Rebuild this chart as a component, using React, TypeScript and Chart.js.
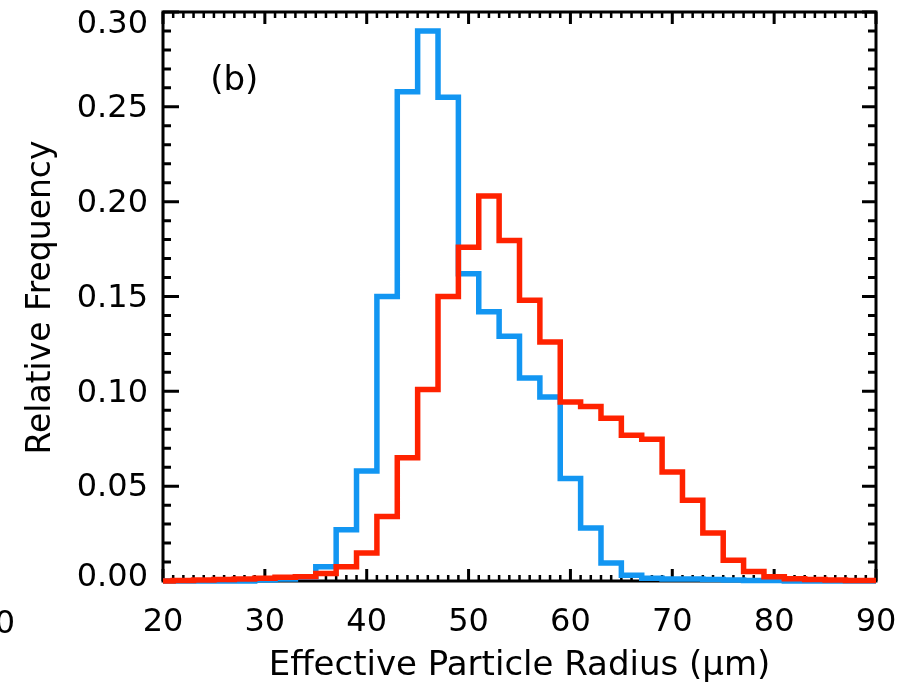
import React, { useEffect, useRef } from 'react';
import { Chart, registerables } from 'chart.js';

Chart.register(...registerables);

// Bin centres (µm), 2 µm wide bins
const binCenters = [20, 22, 24, 26, 28, 30, 32, 34, 36, 38, 40, 42, 44, 46, 48, 50, 52, 54, 56, 58, 60, 62, 64, 66, 68, 70, 72, 74, 76, 78, 80, 82, 84, 86, 88, 90];

const blueValues = [0, 0, 0, 0, 0, 0.0005, 0.001, 0.002, 0.0075, 0.027, 0.058, 0.150, 0.258, 0.290, 0.255, 0.162, 0.142, 0.129, 0.107, 0.097, 0.054, 0.028, 0.0095, 0.003, 0.0015, 0.001, 0.001, 0.0008, 0.0005, 0.0003, 0.0002, 0, 0, 0, 0, 0];

const redValues = [0, 0.0003, 0.0005, 0.0008, 0.001, 0.0015, 0.002, 0.0023, 0.004, 0.0075, 0.0147, 0.034, 0.065, 0.101, 0.150, 0.176, 0.203, 0.1795, 0.148, 0.126, 0.0944, 0.092, 0.0858, 0.0768, 0.0747, 0.0575, 0.0426, 0.0253, 0.011, 0.005, 0.0023, 0.0012, 0.0008, 0.0005, 0.0003, 0.0002];

const xTickValues = [20, 30, 40, 50, 60, 70, 80, 90];
const yTickValues = [0, 0.05, 0.10, 0.15, 0.20, 0.25, 0.30];
const yTickLabels = ['0.00', '0.05', '0.10', '0.15', '0.20', '0.25', '0.30'];

const xTitle = 'Effective Particle Radius (\u03BCm)';
const yTitle = 'Relative Frequency';
const panelLabel = '(b)';
const cutLabel = '90';

const BLUE = '#1296f2';
const RED = '#ff2200';
const FONT = '"DejaVu Sans", sans-serif';

const framePlugin = {
  id: 'idlFrame',
  beforeDatasetsDraw(chart: any) {
    const { ctx, chartArea, scales } = chart;
    const { left, right, top, bottom } = chartArea;
    const x = scales.x;
    const y = scales.y;
    ctx.save();
    ctx.strokeStyle = '#000';
    ctx.lineCap = 'butt';
    for (let v = 20; v <= 90; v += 1) {
      const px = x.getPixelForValue(v);
      const major = v % 10 === 0;
      ctx.lineWidth = major ? 3 : 2.5;
      const len = major ? 12 : 6;
      ctx.beginPath();
      ctx.moveTo(px, bottom);
      ctx.lineTo(px, bottom - len);
      ctx.moveTo(px, top);
      ctx.lineTo(px, top + len);
      ctx.stroke();
    }
    for (let i = 0; i <= 30; i++) {
      const py = y.getPixelForValue(i / 100);
      const major = i % 5 === 0;
      ctx.lineWidth = 3;
      const lenL = major ? 16 : 8;
      const lenR = major ? 14 : 8;
      ctx.beginPath();
      ctx.moveTo(left, py);
      ctx.lineTo(left + lenL, py);
      ctx.moveTo(right, py);
      ctx.lineTo(right - lenR, py);
      ctx.stroke();
    }
    ctx.lineWidth = 3;
    ctx.strokeRect(left, top, right - left, bottom - top);
    ctx.restore();
  },
  afterDraw(chart: any) {
    const { ctx, chartArea, scales } = chart;
    const { left, right, top, bottom } = chartArea;
    ctx.save();
    ctx.fillStyle = '#000';
    // y tick labels (kept inside the picture at the top)
    ctx.font = `32px ${FONT}`;
    ctx.textAlign = 'right';
    ctx.textBaseline = 'middle';
    yTickValues.forEach((v, i) => {
      let py = scales.y.getPixelForValue(v) + 2;
      if (i === yTickValues.length - 1) py = Math.max(py, top + 13);
      if (i === 0) py -= 5;
      ctx.fillText(yTickLabels[i], left - 15, py);
    });
    ctx.textBaseline = 'alphabetic';
    // panel label
    ctx.font = `34px ${FONT}`;
    ctx.textAlign = 'center';
    ctx.fillText(panelLabel, scales.x.getPixelForValue(27), scales.y.getPixelForValue(0.259));
    // x title
    ctx.font = `34px ${FONT}`;
    ctx.textAlign = 'center';
    ctx.fillText(xTitle, (left + right) / 2, 675);
    // y title
    ctx.save();
    ctx.translate(50, (top + bottom) / 2 + 1);
    ctx.rotate(-Math.PI / 2);
    ctx.font = `33px ${FONT}`;
    ctx.textAlign = 'center';
    ctx.fillText(yTitle, 0, 0);
    ctx.restore();
    // cut-off label from neighbouring panel
    ctx.font = `32px ${FONT}`;
    ctx.textAlign = 'right';
    ctx.fillText(cutLabel, 15, 633);
    ctx.restore();
  },
};

export default function App() {
  const canvasRef = useRef<HTMLCanvasElement | null>(null);

  useEffect(() => {
    const canvas = canvasRef.current;
    if (!canvas) return;
    const toPoints = (vals: number[]) => binCenters.map((c, i) => ({ x: c, y: vals[i] }));
    const chart = new Chart(canvas, {
      type: 'line',
      data: {
        datasets: [
          {
            label: 'red',
            data: toPoints(redValues),
            borderColor: RED,
            borderWidth: 5.5,
            stepped: 'middle',
            pointRadius: 0,
            fill: false,
            borderJoinStyle: 'miter',
            clip: false,
          } as any,
          {
            label: 'blue',
            data: toPoints(blueValues),
            borderColor: BLUE,
            borderWidth: 5.5,
            stepped: 'middle',
            pointRadius: 0,
            fill: false,
            borderJoinStyle: 'miter',
            clip: false,
          } as any,
        ],
      },
      options: {
        responsive: false,
        animation: false,
        events: [],
        layout: { padding: { left: 0, right: 37, top: 12, bottom: 0 } },
        plugins: {
          legend: { display: false },
          tooltip: { enabled: false },
          title: { display: false },
        },
        scales: {
          x: {
            type: 'linear',
            min: 20,
            max: 90,
            grid: { display: false, drawTicks: false },
            border: { display: false },
            afterBuildTicks: (s: any) => {
              s.ticks = xTickValues.map((v) => ({ value: v }));
            },
            afterFit: (s: any) => {
              s.height = 103;
              s.paddingLeft = 0;
              s.paddingRight = 0;
            },
            ticks: {
              color: '#000',
              font: { family: FONT, size: 32 },
              padding: 22,
              maxRotation: 0,
              autoSkip: false,
              callback: (v: any) => String(v),
            },
          },
          y: {
            type: 'linear',
            min: 0,
            max: 0.3,
            grid: { display: false, drawTicks: false },
            border: { display: false },
            afterBuildTicks: (s: any) => {
              s.ticks = yTickValues.map((v) => ({ value: v }));
            },
            afterFit: (s: any) => {
              s.width = 163;
              s.paddingTop = 0;
              s.paddingBottom = 0;
            },
            ticks: {
              display: false,
            },
          },
        },
      },
      plugins: [framePlugin],
    });
    return () => chart.destroy();
  }, []);

  return (
    <div style={{ position: 'absolute', left: 0, top: 0, width: 913, height: 684, background: '#fff' }}>
      <canvas ref={canvasRef} width={913} height={684} />
    </div>
  );
}
